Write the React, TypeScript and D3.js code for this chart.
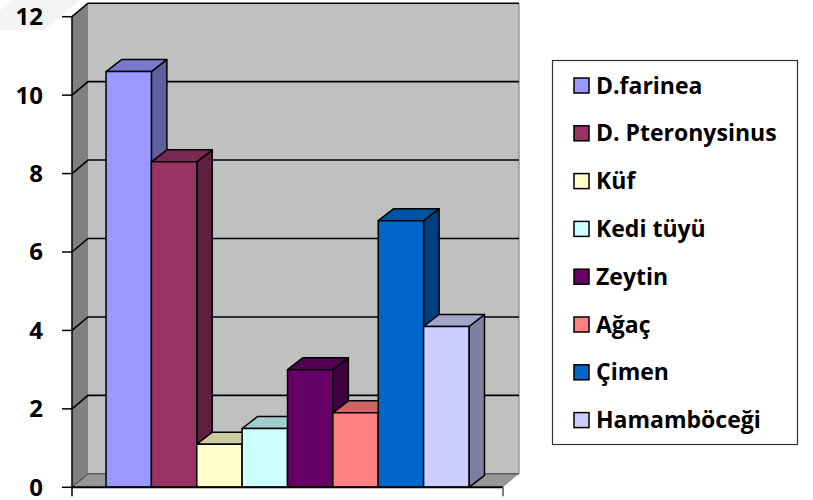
import React from "react";
import * as d3 from "d3";

// Allergen sensitisation counts, one series per allergen
const seriesNames = [
  "D.farinea",
  "D. Pteronysinus",
  "Küf",
  "Kedi tüyü",
  "Zeytin",
  "Ağaç",
  "Çimen",
  "Hamamböceği",
];
const seriesValues = [10.6, 8.3, 1.1, 1.5, 3.0, 1.9, 6.8, 4.1];
const seriesColors = [
  "#9999FF",
  "#993366",
  "#FFFFCC",
  "#CCFFFF",
  "#660066",
  "#FF8080",
  "#0066CC",
  "#CCCCFF",
];
const yTicks = [0, 2, 4, 6, 8, 10, 12];

const W = 813;
const H = 500;

// front plane of the plot
const X0 = 72;
const X1 = 503;
const Y0 = 487.3;
const Y1 = 16.7;
// wall depth offset and bar depth offset (oblique projection)
const WDX = 16;
const WDY = -13.5;
const BDX = 15.5;
const BDY = -12;

const FONT = "'Open Sans', Lato, sans-serif";

function shade(c: string, k: number) {
  const rgb = d3.rgb(c);
  return d3.rgb(rgb.r * k, rgb.g * k, rgb.b * k).formatHex();
}

export default function App() {
  const y = d3.scaleLinear().domain([0, 12]).range([Y0, Y1]);
  // 150% gap width: 8 bars plus 1.5 bar-widths of gap inside the category
  const barW = (X1 - X0) / (seriesNames.length + 1.5);
  const gap = barW * 0.75;
  const x = d3
    .scaleBand<string>()
    .domain(seriesNames)
    .range([X0 + gap, X1 - gap])
    .paddingInner(0)
    .paddingOuter(0);

  const pts = (a: [number, number][]) => a.map((p) => p.join(",")).join(" ");

  return (
    <svg
      width={W}
      height={H}
      style={{ position: "absolute", left: 0, top: 0, background: "#fff" }}
    >
      {/* faint band in the corner */}
      <polygon points="0,10 12,0 80,0 44,30 0,30" fill="#F3F3F3" />

      {/* left side wall */}
      <polygon
        points={pts([
          [X0, y(12)],
          [X0 + WDX, y(12) + WDY],
          [X0 + WDX, Y0 + WDY],
          [X0, Y0],
        ])}
        fill="#808080"
      />
      {/* back wall */}
      <rect
        x={X0 + WDX}
        y={y(12) + WDY}
        width={X1 - X0}
        height={Y0 - y(12)}
        fill="#C0C0C0"
      />
      <line
        x1={X1 + WDX}
        x2={X1 + WDX}
        y1={y(12) + WDY}
        y2={Y0 + WDY}
        stroke="#9A9A9A"
        strokeWidth={1.5}
      />
      {/* floor */}
      <polygon
        points={pts([
          [X0, Y0],
          [X0 + WDX, Y0 + WDY],
          [X1 + WDX, Y0 + WDY],
          [X1, Y0],
        ])}
        fill="#969696"
      />

      {/* gridlines across side and back walls */}
      {yTicks.map((t) => (
        <polyline
          key={t}
          points={pts([
            [X0, y(t)],
            [X0 + WDX, y(t) + WDY],
            [X1 + WDX, y(t) + WDY],
          ])}
          fill="none"
          stroke={t === 0 ? "#333" : "#000"}
          strokeWidth={t === 0 ? 1 : 1.6}
        />
      ))}

      {/* bars, drawn left to right so each front face covers the previous side face */}
      {seriesNames.map((name, i) => {
        const v = seriesValues[i];
        const c = seriesColors[i];
        const bx0 = x(name)!;
        const bx1 = bx0 + x.bandwidth();
        const ty = y(v);
        return (
          <g key={name} stroke="#000" strokeWidth={1.5} strokeLinejoin="round">
            <polygon
              points={pts([
                [bx1, ty],
                [bx1 + BDX, ty + BDY],
                [bx1 + BDX, Y0 + BDY],
                [bx1, Y0],
              ])}
              fill={shade(c, 0.62)}
            />
            <polygon
              points={pts([
                [bx0, ty],
                [bx0 + BDX, ty + BDY],
                [bx1 + BDX, ty + BDY],
                [bx1, ty],
              ])}
              fill={shade(c, 0.8)}
            />
            <rect x={bx0} y={ty} width={bx1 - bx0} height={Y0 - ty} fill={c} />
          </g>
        );
      })}

      {/* value axis */}
      <line x1={X0} x2={X0} y1={y(12)} y2={Y0} stroke="#000" strokeWidth={1.5} />
      {yTicks.map((t) => (
        <g key={t}>
          <line x1={X0 - 10} x2={X0} y1={y(t)} y2={y(t)} stroke="#000" strokeWidth={1.5} />
          <text
            x={43}
            y={y(t)}
            dy="0.35em"
            textAnchor="end"
            fontFamily={FONT}
            fontWeight={700}
            fontSize={24}
            fill="#000"
          >
            {t}
          </text>
        </g>
      ))}
      {/* category axis */}
      <line x1={X0} x2={X1} y1={Y0} y2={Y0} stroke="#000" strokeWidth={2} />
      <line x1={X0} x2={X0} y1={Y0} y2={Y0 + 9} stroke="#000" strokeWidth={1.5} />
      <line x1={X1} x2={X1} y1={Y0} y2={Y0 + 9} stroke="#555" strokeWidth={1.5} />

      {/* legend */}
      <rect x={552.5} y={60.5} width={245} height={384} fill="#fff" stroke="#333" strokeWidth={1.2} />
      {seriesNames.map((name, i) => {
        const cy = 85.5 + i * 47.8;
        return (
          <g key={name}>
            <rect
              x={574}
              y={cy - 7.5}
              width={15}
              height={15}
              fill={seriesColors[i]}
              stroke="#000"
              strokeWidth={1.5}
            />
            <text
              x={596}
              y={cy + 8}
              fontFamily={FONT}
              fontWeight={700}
              fontSize={23}
              fill="#000"
            >
              {name}
            </text>
          </g>
        );
      })}
    </svg>
  );
}
